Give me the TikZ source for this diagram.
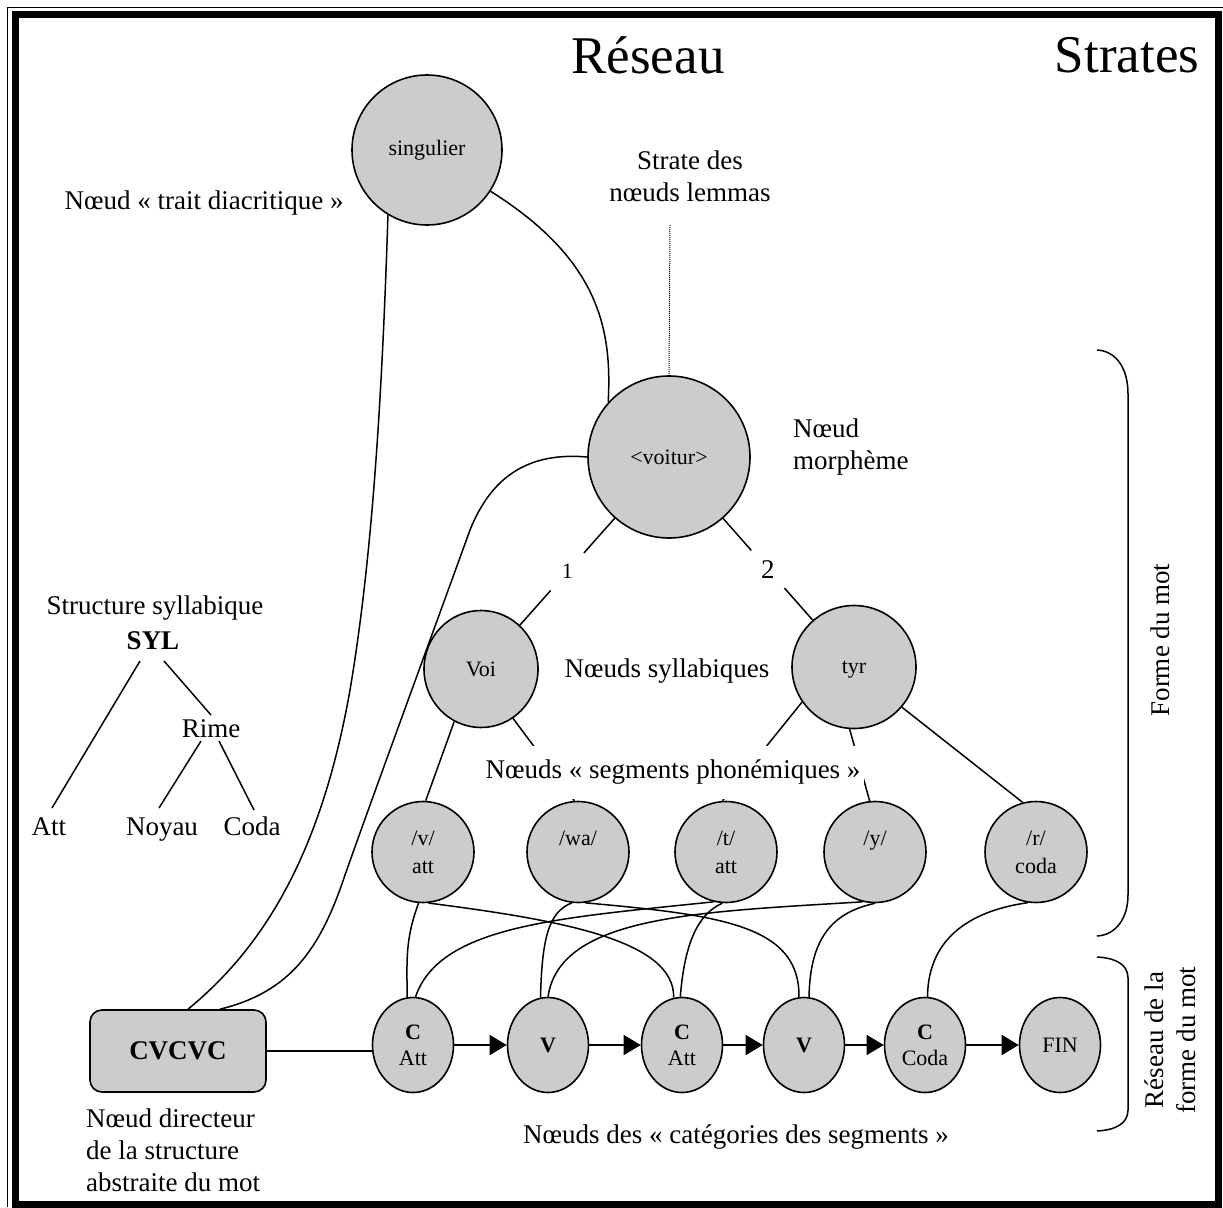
\documentclass[tikz,border=0pt]{standalone}
\usepackage{fontspec}
\setmainfont{Liberation Serif}
\usetikzlibrary{shapes.geometric,arrows.meta}
\begin{document}
\begin{tikzpicture}[x=1pt,y=-1pt,
  nd/.style={ellipse, draw, line width=1.6pt, fill=black!20, inner sep=0pt, align=center, font=\fontsize{22}{28}\selectfont},
  big/.style={nd, minimum width=#1pt, minimum height=#1pt},
  phon/.style={nd, minimum width=102pt, minimum height=101pt},
  cat/.style={nd, minimum width=81pt, minimum height=95pt, font=\fontsize{22}{26}\selectfont},
  lab/.style={inner sep=0pt, align=center, font=\fontsize{27}{32}\selectfont},
  conn/.style={line width=1.5pt},
  arr/.style={line width=1.5pt, -{Triangle[length=17pt,width=20pt]}},
  title/.style={inner sep=0pt, font=\fontsize{53}{60}\selectfont}]
\useasboundingbox (0,0) rectangle (1223,1207);
% frame
\draw[line width=1.5pt] (7.5,1207) -- (7.5,7.5) -- (1223,7.5);
\draw[line width=7pt] (15.5,14.5) rectangle (1218.5,1204);
% titles
\node[title] (tres) at (648,55) {Réseau};
\node[title] (tstr) at (1127,55) {Strates};
% main nodes
\node[big=150] (sing) at (427,150) {singulier};
\node[big=162] (voit) at (669,457) {<voitur>};
\node[nd, minimum width=114pt, minimum height=117pt] (voi) at (481,669) {Voi};
\node[nd, minimum width=124pt, minimum height=123pt] (tyr) at (854,667) {\raisebox{0pt}[\height][0pt]{tyr}};
\node[phon] (pv)  at (423,852) {/v/\\att};
\node[phon] (pwa) at (578,852) {/wa/\\\phantom{att}};
\node[phon] (pt)  at (726,852) {/t/\\att};
\node[phon] (py)  at (875,852) {/y/\\\phantom{att}};
\node[phon] (pr)  at (1036,852) {/r/\\coda};
\node[cat] (c1) at (413,1045) {\textbf{C}\\Att};
\node[cat] (v1) at (548,1045) {\textbf{V}};
\node[cat] (c2) at (682,1045) {\textbf{C}\\Att};
\node[cat] (v2) at (804,1045) {\textbf{V}};
\node[cat] (cc) at (925,1045) {\textbf{C}\\Coda};
\node[cat] (fin) at (1060,1045) {FIN};
\node[draw, rounded corners=12pt, fill=black!20, line width=1.6pt, minimum width=176pt, minimum height=82pt, font=\bfseries\fontsize{27}{32}\selectfont] (cvc) at (178,1051) {CVCVC};
% annotations
\node[lab] (ltrait) at (204,203) {Nœud «~trait diacritique~»};
\node[lab] (llem) at (690,176) {Strate des\\nœuds lemmas};
\node[lab, anchor=west, align=left] (lmorph) at (793,447) {Nœud\\morphème};
\node[lab] (lsyl) at (667,671) {Nœuds syllabiques};
\node[lab] (lcat) at (736,1137) {Nœuds des «~catégories des segments~»};
\node[lab, anchor=west, align=left] (ldir) at (86,1150) {Nœud directeur\\de la structure\\abstraite du mot};
\node[lab, rotate=90] (lforme) at (1160,640) {Forme du mot};
\node[lab, rotate=90] (lres) at (1170,1040) {Réseau de la\\forme du mot};
% syllable tree
\node[lab] (sstruct) at (155,608) {Structure syllabique};
\node[lab, font=\bfseries\fontsize{27}{32}\selectfont] (ssyl) at (153,641) {SYL};
\node[lab] (srime) at (211,729) {Rime};
\node[lab, anchor=base] (satt) at (49,835) {Att};
\node[lab, anchor=base] (snoy) at (162,835) {Noyau};
\node[lab, anchor=base] (scoda) at (252,835) {Coda};
\draw[conn] (140,661) -- (52,808);
\draw[conn] (164,661) -- (211,715);
\draw[conn] (201,741) -- (159,808);
\draw[conn] (219,741) -- (254,810);
% dotted lemma line
\coordinate (lemtop) at (670,225);
\draw[line width=1pt, densely dotted] (lemtop) -- (voit.north);
% long curves
\draw[conn] (sing.-33) .. controls (600,260) and (612,330) .. (voit.138);
\draw[conn] (sing.-121) .. controls (382,400) and (372,560) .. (350,690)
   .. controls (320,860) and (260,950) .. ([xshift=10pt]cvc.north);
\draw[conn] (voit.west) .. controls (530,452) and (492,475) .. (470,530)
   .. controls (432,635) and (375,790) .. (345,875)
   .. controls (320,950) and (290,992) .. ([xshift=42pt]cvc.north);
% morpheme to syllables
\draw[conn] (voit) -- node[circle, fill=white, minimum size=50pt, inner sep=0pt, font=\fontsize{22}{26}\selectfont] {1} (voi);
\draw[conn] (voit) -- node[circle, fill=white, minimum size=50pt, inner sep=0pt, font=\fontsize{27}{32}\selectfont] {2} (tyr);
% syllables to phonemes
\draw[conn] (voi.-117) -- (pv.87);
\draw[conn] (voi.-57) -- (pwa.94);
\draw[conn] (tyr.-146) -- (pt.94);
\draw[conn] (tyr.-94) -- (py.96);
\draw[conn] (tyr.-40) -- (pr.105);
\node[lab, fill=white, minimum height=53pt, inner xsep=4pt] (lseg) at (673,772) {Nœuds «~segments phonémiques~»};
% phonemes to categories
\draw[conn] (pv.-95) .. controls (405,940) and (407,960) .. (c1.97);
\draw[conn] (pv.-84) .. controls (560,920) and (675,940) .. (c2.100);
\draw[conn] (pt.-104) .. controls (560,918) and (440,925) .. (c1.87);
\draw[conn] (pwa.-97) .. controls (548,912) and (542,940) .. (v1.99);
\draw[conn] (pwa.-82) .. controls (720,915) and (800,925) .. (v2.96);
\draw[conn] (py.-104) .. controls (700,912) and (560,915) .. (v1.90);
\draw[conn] (pt.-94) .. controls (695,915) and (684,950) .. (c2.92);
\draw[conn] (py.-90) .. controls (835,912) and (810,935) .. (v2.84);
\draw[conn] (pr.-99) .. controls (975,910) and (928,935) .. (cc.87);
% category chain
\draw[conn] (cvc.east) -- (cvc.east -| c1.west);
\draw[arr] (c1) -- (v1);
\draw[arr] (v1) -- (c2);
\draw[arr] (c2) -- (v2);
\draw[arr] (v2) -- (cc);
\draw[arr] (cc) -- (fin);
% braces
\draw[conn] (1097,350) .. controls (1116,351) and (1128,368) .. (1128,394) -- (1128,895)
   .. controls (1128,918) and (1116,935) .. (1097,936);
\draw[conn] (1097,957) .. controls (1115,958) and (1128,964) .. (1128,978) -- (1128,1110)
   .. controls (1128,1124) and (1115,1130) .. (1097,1131);
\end{tikzpicture}
\end{document}
